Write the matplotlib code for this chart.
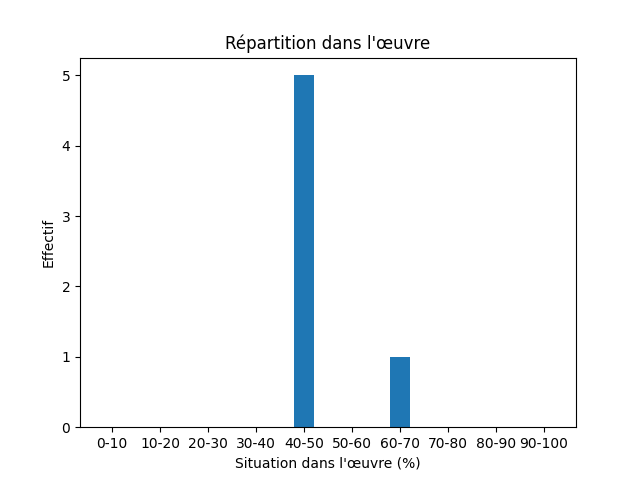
import matplotlib
matplotlib.use("Agg")
import matplotlib.pyplot as plt

categories = ["0-10", "10-20", "20-30", "30-40", "40-50", "50-60", "60-70", "70-80", "80-90", "90-100"]
counts = [0, 0, 0, 0, 5, 0, 1, 0, 0, 0]

fig, ax = plt.subplots(figsize=(6.4, 4.8), dpi=100)
ax.bar(range(len(categories)), counts, width=0.4, color="#1f77b4")
ax.set_xticks(range(len(categories)))
ax.set_xticklabels(categories)
ax.set_title("Répartition dans l'œuvre")
ax.set_xlabel("Situation dans l'œuvre (%)")
ax.set_ylabel("Effectif")
fig.savefig("out.png", dpi=100)
